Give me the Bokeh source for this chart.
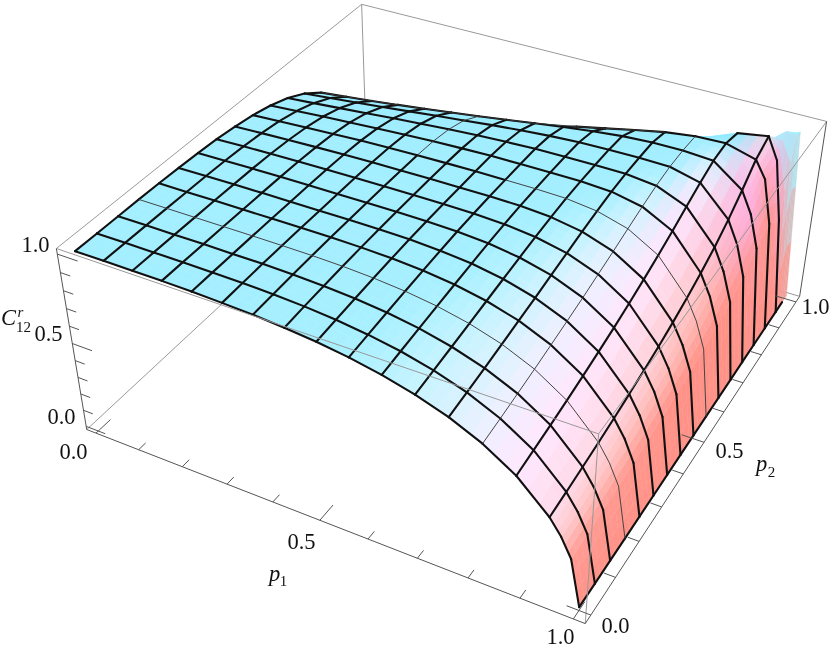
import numpy as np
from bokeh.plotting import figure
from bokeh.models import Range1d
from bokeh.embed import file_html
from bokeh.resources import INLINE
from bokeh.core.properties import value

# sample points of the surface
P1 = [k/16 for k in range(16)] + [0.96, 0.98, 1.0]
P2 = [k/16 for k in range(16)] + [0.975, 1.0]
# C12 (in thousandths) for each p1 row and p2 column
C12_MILLI = [
    [1000,1000,1000,1000,999,996,992,985,973,956,930,893,840,766,658,490,319,0],
    [1000,1000,1000,1000,999,998,995,990,980,965,941,906,856,783,675,504,329,0],
    [1000,1000,1000,1000,1000,999,998,994,986,973,953,920,872,801,693,520,340,0],
    [999,1000,1000,1000,1000,1000,999,997,991,981,963,934,889,820,713,537,353,0],
    [996,998,999,1000,1000,1000,1000,999,995,988,973,948,906,840,734,556,366,0],
    [991,995,998,999,1000,1000,1000,1000,998,993,982,961,924,861,757,577,382,0],
    [984,989,994,997,999,1000,1000,1000,999,997,990,973,941,883,783,601,399,0],
    [972,980,986,992,996,999,1000,1000,1000,999,995,984,958,906,810,628,419,0],
    [955,965,974,982,989,995,998,1000,1000,1000,999,992,973,930,840,658,443,0],
    [931,943,955,966,976,985,993,997,1000,1000,1000,998,986,953,872,693,470,0],
    [898,913,927,941,955,968,980,989,996,999,1000,1000,995,973,906,734,504,0],
    [855,871,887,904,921,938,955,970,984,994,999,1000,999,990,941,783,546,0],
    [797,814,832,851,871,891,913,934,955,974,989,998,1000,999,973,840,601,0],
    [719,736,755,775,797,820,844,871,898,927,955,980,996,1000,995,906,675,0],
    [611,628,646,665,687,710,736,765,797,832,871,913,955,989,1000,973,783,0],
    [450,463,478,494,512,533,555,581,611,646,687,736,797,871,955,1000,941,0],
    [365,376,389,402,418,435,455,477,503,534,571,617,676,754,861,880,992,900],
    [261,270,279,289,300,313,328,345,365,389,418,455,503,571,620,550,998,970],
    [0,0,0,0,0,0,0,0,0,0,0,0,0,0,0,0,0,0],
]
AXIS_TICKS = [k/10 for k in range(11)]
TICK_LABELS = ["0.0", "0.5", "1.0"]

P1 = np.array(P1); P2 = np.array(P2)
Z = np.array(C12_MILLI, float)/1000

# perspective camera of the 3D box, solved from where its corners sit
pad = 0.022
lo, hi, zlo, zhi = -pad, 1+pad, -0.02, 1.03
anchors = [((lo,lo,zhi),(57,248)),((lo,lo,zlo),(85,427)),((hi,lo,zlo),(586,623)),((hi,hi,zlo),(800,293)),
           ((hi,hi,zhi),(825,122)),((lo,hi,zhi),(362,1)),((hi,lo,zhi),(597,436)),((lo,hi,zlo),(366,173))]
A = []; B = []
for (X,Y,W),(u,v) in anchors:
    A.append([X,Y,W,1,0,0,0,0,-u*X,-u*Y,-u*W]); B.append(u)
    A.append([0,0,0,0,X,Y,W,1,-v*X,-v*Y,-v*W]); B.append(v)
sol = np.linalg.lstsq(np.array(A,float), np.array(B,float), rcond=None)[0]
M = np.append(sol, 1).reshape(3,4)
def proj(a, b, c):
    a, b, c = np.asarray(a,float), np.asarray(b,float), np.asarray(c,float)
    v = np.stack([a,b,c,np.ones_like(a)])
    h = M @ v.reshape(4,-1)
    return (h[0]/h[2]).reshape(a.shape), (h[1]/h[2]).reshape(a.shape), h[2].reshape(a.shape)

p = figure(width=830, height=649, x_range=Range1d(0,830), y_range=Range1d(649,0), toolbar_location=None,
           output_backend="svg", min_border=0, outline_line_color=None)
p.axis.visible = False
p.grid.visible = False
p.styles = {"position":"fixed","left":"0","top":"0"}

def seg(pts, color, w):
    xs, ys = [], []
    for q0, q1 in pts:
        x, y, _ = proj(np.array([q0[0],q1[0]]), np.array([q0[1],q1[1]]), np.array([q0[2],q1[2]]))
        xs.append(list(x)); ys.append(list(y))
    p.multi_line(xs, ys, line_color=color, line_width=w)

seg([((lo,lo,zlo),(lo,hi,zlo)),((lo,hi,zlo),(hi,hi,zlo)),((lo,hi,zlo),(lo,hi,zhi)),((lo,hi,zhi),(lo,lo,zhi)),((lo,hi,zhi),(hi,hi,zhi))], "#999999", 1)

gx = np.gradient(Z, P1, axis=0); gy = np.gradient(Z, P2, axis=1)
stops_s = [0.0,0.4,0.8,1.4,2.1,3.3,5.0,8.0,12.0]
stops_c = np.array([[163,238,255],[168,240,255],[200,244,255],[238,240,255],[255,232,255],[255,222,240],[255,194,192],[255,162,154],[255,146,136]],float)
def shade(i,j):
    s = -gx[i,j]
    c = np.array([np.interp(s, stops_s, stops_c[:,k]) for k in range(3)])
    t = np.clip(-gy[i,j]*0.15, 0, .55)
    c = c*(1-t) + np.array([120,228,255])*t
    t2 = np.clip((gy[i,j]-.6)/1.0,0,.8)*np.clip((Z[i,j]-.45)/.2,0,1)
    c = c*(1-t2) + np.array([255,175,235])*t2
    if j>=16 and i<18: c = np.array([165,240,255])
    return c
C = np.array([[shade(i,j) for j in range(len(P2))] for i in range(len(P1))])
X,Y,W = proj(*np.meshgrid(P1,P2,indexing="ij"), Z)
polys=[]
sub=3
for i in range(len(P1)-1):
    for j in range(len(P2)-1):
        for a in range(sub):
            for b in range(sub):
                u0,u1,v0,v1 = a/sub,(a+1)/sub,b/sub,(b+1)/sub
                def bl(F,u,v): return F[i,j]*(1-u)*(1-v)+F[i+1,j]*u*(1-v)+F[i,j+1]*(1-u)*v+F[i+1,j+1]*u*v
                xx=[bl(X,u0,v0),bl(X,u1,v0),bl(X,u1,v1),bl(X,u0,v1)]
                yy=[bl(Y,u0,v0),bl(Y,u1,v0),bl(Y,u1,v1),bl(Y,u0,v1)]
                cc=bl(C,(u0+u1)/2,(v0+v1)/2)
                polys.append((bl(W,(u0+u1)/2,(v0+v1)/2),xx,yy,"#%02x%02x%02x"%tuple(int(round(k)) for k in cc)))
polys.sort(key=lambda t:-t[0])
p.patches([t[1] for t in polys],[t[2] for t in polys],fill_color=[t[3] for t in polys],line_color=[t[3] for t in polys],line_width=0.5)

V=np.ones(Z.shape,bool)
for i in range(Z.shape[0]):
    for j in range(1,Z.shape[1]):
        if Y[i,j]>=Y[i,j-1] or not V[i,j-1]:
            V[i,j]=False
thick_x,thick_y,thin_x,thin_y=[],[],[],[]
def add(xa,ya,xb,yb,thin):
    (thin_x if thin else thick_x).append([xa,xb]); (thin_y if thin else thick_y).append([ya,yb])
for j in range(16):
    for i in range(18):
        if V[i,j] and V[i+1,j]:
            add(X[i,j],Y[i,j],X[i+1,j],Y[i+1,j], j==3 or (j==9 and i>=9))
for i in list(range(16))+[18]:
    for j in range(16):
        if V[i,j] and V[i,j+1]:
            add(X[i,j],Y[i,j],X[i,j+1],Y[i,j+1], i==13 or (i==6 and j>=9))
p.multi_line(thick_x,thick_y,line_color="#111111",line_width=2.1,line_cap="round")
p.multi_line(thin_x,thin_y,line_color="#444444",line_width=1)
jc=[np.where(V[i])[0].max() for i in range(13)]
p.line([X[i,jc[i]] for i in range(13)],[Y[i,jc[i]] for i in range(13)],line_color="#333333",line_width=1)

seg([((lo,lo,zhi),(hi,lo,zhi)),((hi,lo,zhi),(hi,hi,zhi)),((hi,lo,zhi),(hi,lo,zlo))], "#999999", 1)
seg([((lo,lo,zhi),(lo,lo,zlo)),((lo,lo,zlo),(hi,lo,zlo)),((hi,lo,zlo),(hi,hi,zlo)),((hi,hi,zlo),(hi,hi,zhi))], "#555555", 1)

ticks=[]
for k,t in enumerate(AXIS_TICKS):
    L=0.045 if k%5==0 else 0.022
    ticks.append(((t,lo,zlo),(t,lo+L,zlo)))
    ticks.append(((hi,t,zlo),(hi-L,t,zlo)))
    ticks.append(((lo,lo,t),(lo+L,lo,t)))
seg(ticks,"#555555",1)

def T(x,y,s,size=22.5,style="normal",align="center"):
    p.text([x],[y],text=[s],text_font=value("Liberation Serif"),text_font_size=f"{size}px",text_font_style=style,text_align=align,text_baseline="middle",text_color="#111111")
for x,y,s in zip([61,48,35],[416,333,244],TICK_LABELS): T(x,y,s)
for x,y,s in zip([73,301,560],[451,541,636],TICK_LABELS): T(x,y,s)
for x,y,s in zip([615,729,815],[625,450,306],TICK_LABELS): T(x,y,s)
T(274,573,"p",22.5,"italic"); T(283,580,"1",15,"normal")
T(761,463,"p",22.5,"italic"); T(771,471,"2",15,"normal")
T(8,317,"C",22.5,"italic"); T(20,311,"r",15,"italic"); T(23,326,"12",15,"normal")
open("out.html","w").write(file_html(p, INLINE))
